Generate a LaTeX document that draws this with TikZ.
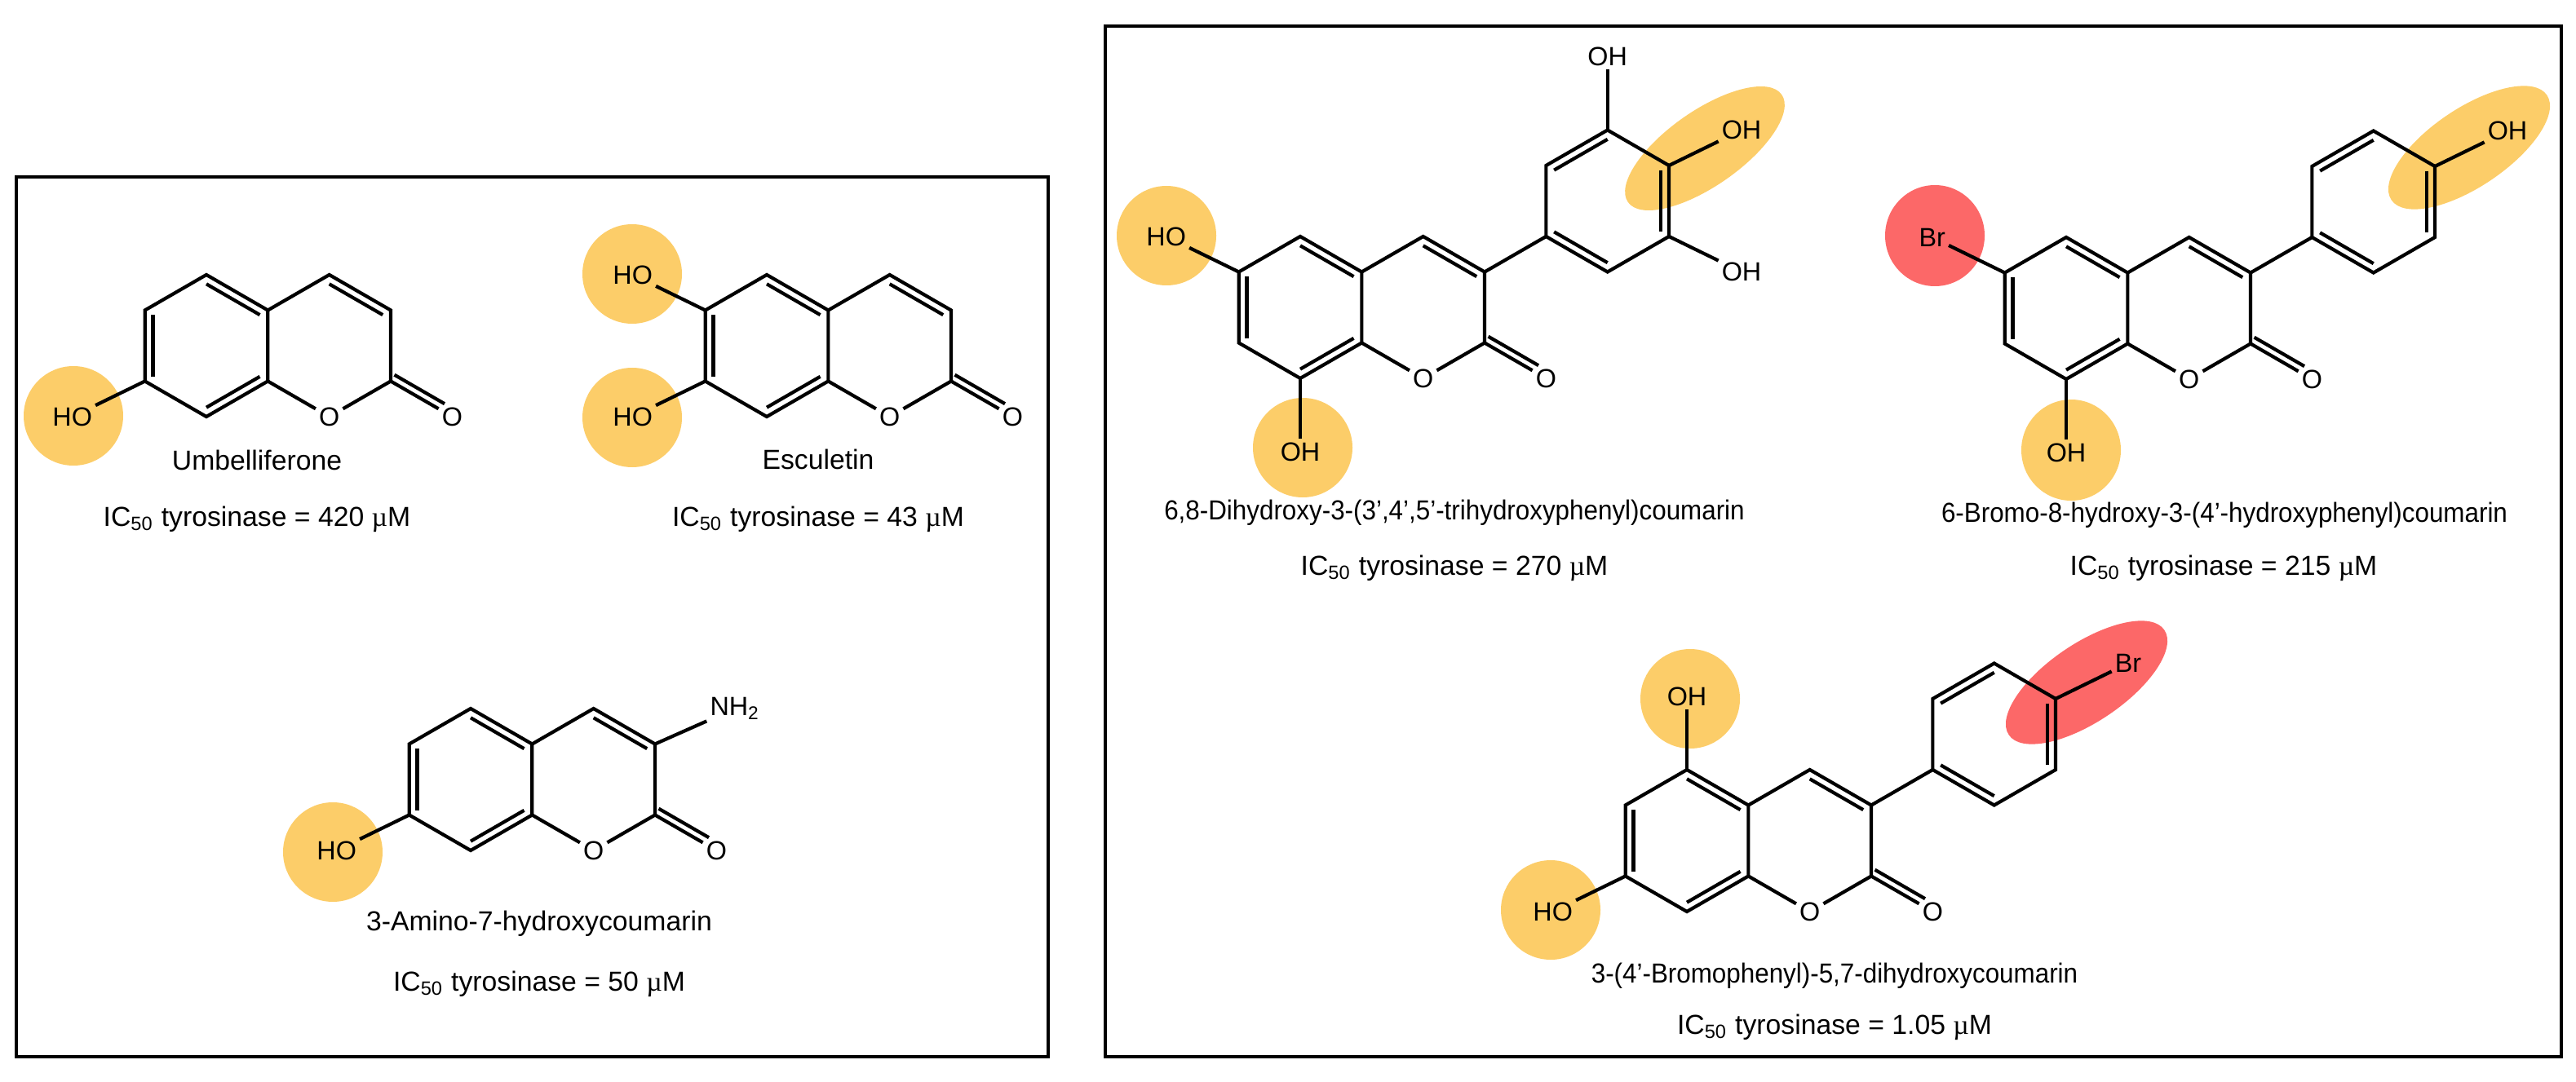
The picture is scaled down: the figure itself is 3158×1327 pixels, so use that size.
\documentclass[tikz,border=0pt]{standalone}
\usepackage{fontspec}
\setmainfont{Liberation Sans}
\newfontfamily\serifmu{Liberation Serif}
\usetikzlibrary{calc}
\definecolor{hlorange}{HTML}{FCCD69}
\definecolor{hlred}{HTML}{FC6868}
\newcommand{\uM}{{\serifmu µ}M}
\tikzset{
 bond/.style={line width=0.42mm, line join=miter},
 boxline/.style={line width=0.35mm},
 atom/.style={inner sep=0.35mm, font=\fontsize{9.2}{10}\selectfont},
 lab/.style={inner sep=0pt, font=\fontsize{9.6}{11}\selectfont},
 hlo/.style={fill=hlorange},
 hlr/.style={fill=hlred}
}
% inner double bond line
\newcommand{\dbl}[3]{\draw[bond] ($(#1)!0.13!(#3)$) -- ($(#2)!0.13!(#3)$);}
% coumarin core: prefix, x, y (benzene ring centre)
\newcommand{\coum}[3]{%
 \coordinate (#1c) at (#2,#3);
 \coordinate (#1p) at ($(#1c)+(150.68,0)$);
 \coordinate (#1B5) at ($(#1c)+(0,-87)$);
 \coordinate (#1B4a) at ($(#1c)+(75.34,-43.5)$);
 \coordinate (#1B8a) at ($(#1c)+(75.34,43.5)$);
 \coordinate (#1B8) at ($(#1c)+(0,87)$);
 \coordinate (#1B7) at ($(#1c)+(-75.34,43.5)$);
 \coordinate (#1B6) at ($(#1c)+(-75.34,-43.5)$);
 \coordinate (#1C4) at ($(#1c)+(150.68,-87)$);
 \coordinate (#1C3) at ($(#1c)+(226.02,-43.5)$);
 \coordinate (#1C2) at ($(#1c)+(226.02,43.5)$);
 \node[atom] (#1O1) at ($(#1c)+(150.68,87)$) {O};
 \node[atom] (#1Oc) at ($(#1c)+(301.36,87)$) {O};
 \draw[bond] (#1B5)--(#1B4a)--(#1B8a)--(#1B8)--(#1B7)--(#1B6)--cycle;
 \draw[bond] (#1B4a)--(#1C4)--(#1C3)--(#1C2);
 \draw[bond] (#1B8a)--(#1O1)--(#1C2)--(#1Oc);
 \draw[bond,shorten >=1.6mm] ($(#1C2)+(4.5,-7.8)$) -- ($(#1Oc)+(4.5,-7.8)$);
 \dbl{#1B5}{#1B4a}{#1c}\dbl{#1B6}{#1B7}{#1c}\dbl{#1B8}{#1B8a}{#1c}
 \dbl{#1C4}{#1C3}{#1p}
}
% phenyl attached at C3 of coumarin with prefix #1
\newcommand{\phen}[1]{%
 \coordinate (#1f) at ($(#1c)+(376.7,-130.5)$);
 \coordinate (#1T) at ($(#1f)+(0,-87)$);
 \coordinate (#1UR) at ($(#1f)+(75.34,-43.5)$);
 \coordinate (#1LR) at ($(#1f)+(75.34,43.5)$);
 \coordinate (#1Bt) at ($(#1f)+(0,87)$);
 \coordinate (#1LL) at ($(#1f)+(-75.34,43.5)$);
 \coordinate (#1UL) at ($(#1f)+(-75.34,-43.5)$);
 \draw[bond] (#1T)--(#1UR)--(#1LR)--(#1Bt)--(#1LL)--(#1UL)--cycle;
 \draw[bond] (#1C3)--(#1LL);
 \dbl{#1UL}{#1T}{#1f}\dbl{#1UR}{#1LR}{#1f}\dbl{#1LL}{#1Bt}{#1f}
}
\begin{document}
\begin{tikzpicture}[x=0.1mm,y=-0.1mm]
\useasboundingbox (0,0) rectangle (3158,1327);
% highlights
\fill[hlo] (90,510) circle [radius=6.1mm];
\fill[hlo] (775,336) circle [radius=6.1mm];
\fill[hlo] (775,512) circle [radius=6.1mm];
\fill[hlo] (408,1045) circle [radius=6.1mm];
\fill[hlo] (1430,289) circle [radius=6.1mm];
\fill[hlo] (1597,549) circle [radius=6.1mm];
\fill[hlo, rotate around={35:(2090,182)}] (2090,182) ellipse [x radius=11.5mm, y radius=4.6mm];
\fill[hlr] (2372,289) ellipse [x radius=6.1mm, y radius=6.2mm];
\fill[hlo] (2539,552) ellipse [x radius=6.1mm, y radius=6.2mm];
\fill[hlo, rotate around={34:(3027,181)}] (3027,181) ellipse [x radius=11.5mm, y radius=4.8mm];
\fill[hlo] (2072,857) circle [radius=6.1mm];
\fill[hlo] (1901,1116) circle [radius=6.1mm];
\fill[hlr, rotate around={34:(2558,837)}] (2558,837) ellipse [x radius=11.5mm, y radius=4.8mm];
% boxes
\draw[boxline] (20,217) rectangle (1285,1296);
\draw[boxline] (1355,32) rectangle (3140,1296);
% Umbelliferone
\coum{u}{253}{424}
\node[atom] (uOH) at ($(uB7)+(-89,43.5)$) {HO};
\draw[bond] (uB7) -- (uOH);
\node[lab] (uname) at (315,564) {Umbelliferone};
\node[lab] (uic) at (315,637) {IC\textsubscript{50} tyrosinase = 420 \uM};
% Esculetin
\coum{e}{940}{424}
\node[atom] (eOH6) at ($(eB6)+(-89,-43.5)$) {HO};
\node[atom] (eOH7) at ($(eB7)+(-89,43.5)$) {HO};
\draw[bond] (eB6) -- (eOH6);
\draw[bond] (eB7) -- (eOH7);
\node[lab] (ename) at (1003,563) {Esculetin};
\node[lab] (eic) at (1003,637) {IC\textsubscript{50} tyrosinase = 43 \uM};
% 3-Amino-7-hydroxycoumarin
\coum{a}{577}{956}
\node[atom] (aOH) at ($(aB7)+(-89,43.5)$) {HO};
\draw[bond] (aB7) -- (aOH);
\node[atom] (aN) at ($(aC3)+(98,-43.5)$) {NH\textsubscript{2}};
\draw[bond] (aC3) -- (aN);
\node[lab] (aname) at (661,1133) {3-Amino-7-hydroxycoumarin};
\node[lab] (aic) at (661,1207) {IC\textsubscript{50} tyrosinase = 50 \uM};
% 6,8-Dihydroxy-3-(3',4',5'-trihydroxyphenyl)coumarin
\coum{d}{1594}{377}
\phen{d}
\node[atom] (dOH6) at ($(dB6)+(-89,-43.5)$) {HO};
\node[atom] (dOH8) at ($(dB8)+(0,90)$) {OH};
\node[atom] (dOHt) at ($(dT)+(0,-90)$) {OH};
\node[atom] (dOHp) at ($(dUR)+(89,-43.5)$) {OH};
\node[atom] (dOHm) at ($(dLR)+(89,43.5)$) {OH};
\draw[bond] (dB6) -- (dOH6);
\draw[bond] (dB8) -- (dOH8);
\draw[bond] (dT) -- (dOHt);
\draw[bond] (dUR) -- (dOHp);
\draw[bond] (dLR) -- (dOHm);
\node[lab, xscale=0.93] (dname) at (1783,629) {6,8-Dihydroxy-3-(3’,4’,5’-trihydroxyphenyl)coumarin};
\node[lab] (dic) at (1783,697) {IC\textsubscript{50} tyrosinase = 270 \uM};
% 6-Bromo-8-hydroxy-3-(4'-hydroxyphenyl)coumarin
\coum{b}{2533}{378}
\phen{b}
\node[atom] (bBr) at ($(bB6)+(-89,-43.5)$) {Br};
\node[atom] (bOH8) at ($(bB8)+(0,90)$) {OH};
\node[atom] (bOHp) at ($(bUR)+(89,-43.5)$) {OH};
\draw[bond] (bB6) -- (bBr);
\draw[bond] (bB8) -- (bOH8);
\draw[bond] (bUR) -- (bOHp);
\node[lab, xscale=0.93] (bname) at (2727,632) {6-Bromo-8-hydroxy-3-(4’-hydroxyphenyl)coumarin};
\node[lab] (bic) at (2726,697) {IC\textsubscript{50} tyrosinase = 215 \uM};
% 3-(4'-Bromophenyl)-5,7-dihydroxycoumarin
\coum{r}{2068}{1031}
\phen{r}
\node[atom] (rOH5) at ($(rB5)+(0,-90)$) {OH};
\node[atom] (rOH7) at ($(rB7)+(-89,43.5)$) {HO};
\node[atom] (rBr) at ($(rUR)+(89,-43.5)$) {Br};
\draw[bond] (rB5) -- (rOH5);
\draw[bond] (rB7) -- (rOH7);
\draw[bond] (rUR) -- (rBr);
\node[lab, xscale=0.93] (rname) at (2249,1197) {3-(4’-Bromophenyl)-5,7-dihydroxycoumarin};
\node[lab] (ric) at (2249,1260) {IC\textsubscript{50} tyrosinase = 1.05 \uM};
\end{tikzpicture}
\end{document}
